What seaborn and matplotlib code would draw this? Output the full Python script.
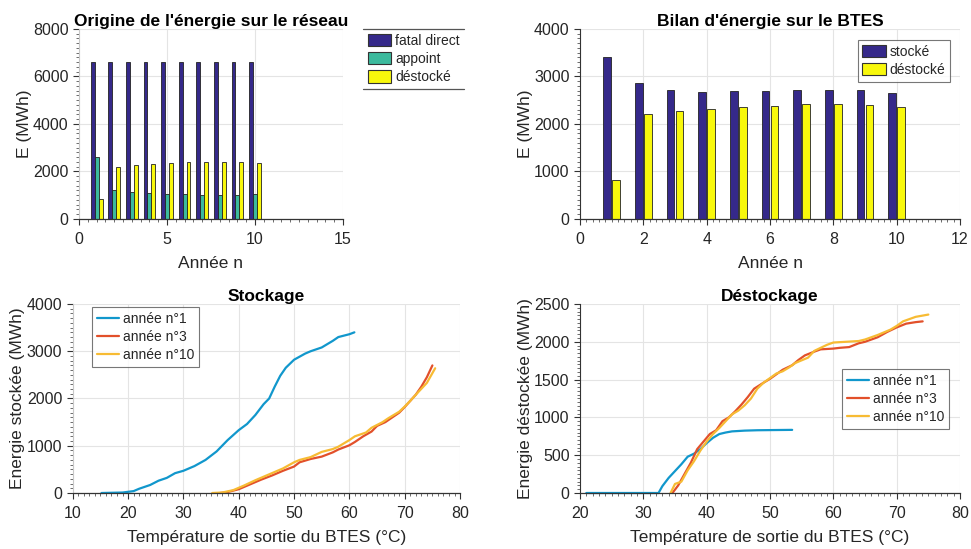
import matplotlib
matplotlib.use("Agg")
import matplotlib.pyplot as plt
from matplotlib.ticker import MultipleLocator
from matplotlib.lines import Line2D
import pandas as pd
import seaborn as sns

# ---------------------------------------------------------------- data
annees = [1, 2, 3, 4, 5, 6, 7, 8, 9, 10]
fatal_direct = [6600, 6600, 6600, 6600, 6600, 6600, 6600, 6600, 6600, 6600]
appoint = [2600, 1230, 1150, 1090, 1050, 1050, 1010, 1000, 1000, 1050]
destocke = [830, 2200, 2270, 2325, 2360, 2380, 2415, 2415, 2395, 2360]
stocke = [3410, 2870, 2710, 2675, 2695, 2695, 2725, 2725, 2710, 2655]

series_reseau = ["fatal direct", "appoint", "déstocké"]
series_btes = ["stocké", "déstocké"]
annees_courbes = ["année n°1", "année n°3", "année n°10"]

# Stockage : température de sortie (°C) / énergie stockée cumulée (MWh)
stock_t_a1 = [15.2, 19, 21, 22, 24, 25.5, 27, 28.5, 30, 32, 34, 36, 38, 40, 41.5,
              43, 44.5, 45.5, 46.5, 47.5, 48.5, 50, 52, 53, 55, 57, 58, 60, 60.9]
stock_e_a1 = [0, 10, 40, 90, 170, 260, 320, 420, 470, 570, 700, 880, 1120, 1330, 1460,
              1650, 1880, 2000, 2250, 2480, 2650, 2820, 2950, 3000, 3080, 3220, 3300, 3360, 3400]
stock_t_a3 = [36.6, 38, 40, 42, 44, 46, 48, 50, 51, 53, 55, 57, 58, 60, 61, 62.5,
              64, 65, 66.5, 68, 69, 70, 71, 72, 73, 74, 75]
stock_e_a3 = [0, 20, 80, 180, 280, 370, 470, 560, 650, 720, 770, 860, 920, 1010, 1080, 1200,
              1300, 1420, 1500, 1620, 1700, 1820, 1950, 2080, 2250, 2450, 2700]
stock_t_a10 = [35.2, 37, 39, 41, 43, 45, 47, 48, 50, 51, 53, 55, 57, 58, 60, 61,
               63, 64, 66, 67, 69, 70, 71, 72, 74, 75.5]
stock_e_a10 = [0, 10, 60, 160, 270, 370, 470, 520, 650, 700, 760, 870, 930, 980, 1120, 1200,
               1280, 1380, 1500, 1580, 1720, 1830, 1950, 2080, 2330, 2640]

# Déstockage : température de sortie (°C) / énergie déstockée cumulée (MWh)
destock_t_a1 = [21, 32.4, 33, 34, 35, 36, 37, 38, 39, 40, 41, 42, 43, 44, 46, 48, 50, 53.5]
destock_e_a1 = [0, 0, 90, 200, 290, 380, 480, 520, 580, 660, 730, 780, 800, 815, 825, 830, 832, 835]
destock_t_a3 = [34.6, 35.5, 36.5, 37.5, 38.5, 39.5, 40.5, 41.5, 42.5, 43.5, 44.5, 45.5,
                46.5, 47.5, 49, 50, 51, 52, 53.5, 54.5, 55.5, 57, 58, 60, 61, 62.5,
                64, 65, 67, 68.5, 70, 71.5, 73, 74.1]
destock_e_a3 = [0, 100, 250, 400, 580, 680, 780, 830, 950, 1000, 1080, 1170,
                1270, 1380, 1460, 1510, 1570, 1630, 1690, 1760, 1820, 1870, 1900, 1910, 1920, 1930,
                1980, 2000, 2060, 2130, 2190, 2240, 2260, 2270]
destock_t_a10 = [34.3, 35, 36, 37, 38, 39, 40, 41, 42, 43, 44, 45, 46, 47, 48, 49, 50,
                 51, 52, 53, 54, 56, 57, 58, 59, 60, 62, 64, 65, 67, 69, 70, 71, 73, 75]
destock_e_a10 = [0, 120, 150, 300, 420, 560, 680, 780, 860, 950, 1040, 1090, 1160, 1250, 1380, 1460, 1520,
                 1580, 1610, 1660, 1720, 1790, 1880, 1920, 1960, 1990, 2000, 2010, 2030, 2090, 2160, 2210,
                 2270, 2330, 2360]

# ---------------------------------------------------------------- style
sns.set_theme(style="ticks")
plt.rcParams["font.family"] = ["Liberation Sans", "DejaVu Sans"]
plt.rcParams["axes.unicode_minus"] = False

c_navy = "#35298A"
c_teal = "#3CBA9D"
c_yellow = "#F8F80C"
c_l1 = "#1197CC"
c_l3 = "#E2502A"
c_l10 = "#F7BB33"
txt = "#262626"
grid_c = "#E4E4E4"

fig = plt.figure(figsize=(9.71, 5.49), dpi=100)
ax_tl = fig.add_axes([0.0814, 0.6011, 0.2718, 0.3461])
ax_tr = fig.add_axes([0.5973, 0.6011, 0.3914, 0.3461])
ax_bl = fig.add_axes([0.0749, 0.1020, 0.3989, 0.3443])
ax_br = fig.add_axes([0.5973, 0.1020, 0.3914, 0.3443])


def style_axes(ax, xmaj, xmin, ymaj, ymin, left_spine=True):
    ax.xaxis.set_major_locator(MultipleLocator(xmaj))
    ax.xaxis.set_minor_locator(MultipleLocator(xmin))
    ax.yaxis.set_major_locator(MultipleLocator(ymaj))
    ax.yaxis.set_minor_locator(MultipleLocator(ymin))
    ax.grid(True, which="major", color=grid_c, lw=0.8)
    ax.set_axisbelow(True)
    for s in ("top", "right"):
        ax.spines[s].set_visible(False)
    ax.spines["bottom"].set_color("#333333")
    ax.spines["bottom"].set_linewidth(0.9)
    ax.spines["left"].set_color("#333333" if left_spine else "#C8C8C8")
    ax.spines["left"].set_linewidth(0.8)
    ax.tick_params(which="both", bottom=True, left=True, top=False, right=False)
    ax.tick_params(which="major", direction="out", length=4, width=0.8, color="#333333",
                   labelsize=11.5, labelcolor=txt)
    ax.tick_params(which="minor", direction="out", length=2.2, width=0.6, color="#555555")
    ax.tick_params(axis="x", which="major", pad=5.5)
    ax.tick_params(axis="y", which="major", pad=3.5)


def set_labels(ax, title, xlabel, ylabel):
    ax.set_title(title, fontsize=12.5, fontweight="bold", color="black", pad=2.5)
    ax.set_xlabel(xlabel, fontsize=12.5, color=txt, labelpad=6.5)
    ax.set_ylabel(ylabel, fontsize=12.5, color=txt, labelpad=1)


def rebuild_legend(ax, patches, **kw):
    leg = ax.get_legend()
    handles = list(leg.legend_handles)
    labels = [t.get_text() for t in leg.texts]
    leg.remove()
    if patches:
        for h in handles:
            h.set_edgecolor("#333333")
            h.set_linewidth(0.8)
    new = ax.legend(handles, labels, fontsize=10, labelcolor=txt, fancybox=False,
                    borderaxespad=0, borderpad=0.35, labelspacing=0.3,
                    handletextpad=0.25, **kw)
    new.get_frame().set_edgecolor("#555555")
    new.get_frame().set_linewidth(0.8)
    return new


# ---------------------------------------------------------------- origine de l'énergie
df_res = pd.DataFrame({
    "annee": annees * 3,
    "E": fatal_direct + appoint + destocke,
    "serie": [series_reseau[0]] * 10 + [series_reseau[1]] * 10 + [series_reseau[2]] * 10,
})
sns.barplot(data=df_res, x="annee", y="E", hue="serie", hue_order=series_reseau,
            palette=[c_navy, c_teal, c_yellow], saturation=1, native_scale=True, width=0.667,
            errorbar=None, edgecolor="#222222", linewidth=0.6, ax=ax_tl)
ax_tl.set_xlim(0, 15)
ax_tl.set_ylim(0, 8000)
style_axes(ax_tl, 5, 0.5, 2000, 200, left_spine=False)
set_labels(ax_tl, "Origine de l'énergie sur le réseau", "Année n", "E (MWh)")
leg_tl = rebuild_legend(ax_tl, True, loc="upper left", bbox_to_anchor=(1.076, 1.0),
                        handlelength=1.7, handleheight=1.0)
leg_tl.set_frame_on(False)

# ---------------------------------------------------------------- bilan BTES
df_btes = pd.DataFrame({
    "annee": annees * 2,
    "E": stocke + destocke,
    "serie": [series_btes[0]] * 10 + [series_btes[1]] * 10,
})
sns.barplot(data=df_btes, x="annee", y="E", hue="serie", hue_order=series_btes,
            palette=[c_navy, c_yellow], saturation=1, native_scale=True, width=0.571, gap=0.18,
            errorbar=None, edgecolor="#222222", linewidth=0.6, ax=ax_tr)
ax_tr.set_xlim(0, 12)
ax_tr.set_ylim(0, 4000)
style_axes(ax_tr, 2, 0.2, 1000, 100)
set_labels(ax_tr, "Bilan d'énergie sur le BTES", "Année n", "E (MWh)")
rebuild_legend(ax_tr, True, loc="upper right", bbox_to_anchor=(0.974, 0.942),
               handlelength=1.7, handleheight=1.0)

# ---------------------------------------------------------------- stockage
df_st = pd.DataFrame({
    "T": stock_t_a1 + stock_t_a3 + stock_t_a10,
    "E": stock_e_a1 + stock_e_a3 + stock_e_a10,
    "annee": [annees_courbes[0]] * len(stock_t_a1) + [annees_courbes[1]] * len(stock_t_a3)
    + [annees_courbes[2]] * len(stock_t_a10),
})
sns.lineplot(data=df_st, x="T", y="E", hue="annee", hue_order=annees_courbes,
             palette=[c_l1, c_l3, c_l10], sort=False, estimator=None, lw=1.6,
             ax=ax_bl, clip_on=False)
ax_bl.set_xlim(10, 80)
ax_bl.set_ylim(0, 4000)
style_axes(ax_bl, 10, 1, 1000, 100, left_spine=False)
set_labels(ax_bl, "Stockage", "Température de sortie du BTES (°C)", "Energie stockée (MWh)")
rebuild_legend(ax_bl, False, loc="upper left", bbox_to_anchor=(0.05, 0.984),
               handlelength=1.6)

# ---------------------------------------------------------------- déstockage
df_ds = pd.DataFrame({
    "T": destock_t_a1 + destock_t_a3 + destock_t_a10,
    "E": destock_e_a1 + destock_e_a3 + destock_e_a10,
    "annee": [annees_courbes[0]] * len(destock_t_a1) + [annees_courbes[1]] * len(destock_t_a3)
    + [annees_courbes[2]] * len(destock_t_a10),
})
sns.lineplot(data=df_ds, x="T", y="E", hue="annee", hue_order=annees_courbes,
             palette=[c_l1, c_l3, c_l10], sort=False, estimator=None, lw=1.6,
             ax=ax_br, clip_on=False)
ax_br.set_xlim(20, 80)
ax_br.set_ylim(0, 2500)
style_axes(ax_br, 10, 1, 500, 50)
set_labels(ax_br, "Déstockage", "Température de sortie du BTES (°C)", "Energie déstockée (MWh)")
rebuild_legend(ax_br, False, loc="upper right", bbox_to_anchor=(0.971, 0.656),
               handlelength=1.6)

# top and bottom rules around the outside legend
fig.canvas.draw()
bb = leg_tl.get_window_extent().transformed(fig.transFigure.inverted())
for yy in (bb.y0, bb.y1):
    fig.add_artist(Line2D([bb.x0, bb.x1], [yy, yy], color="#555555", lw=0.9,
                          transform=fig.transFigure))

fig.savefig("out.png", dpi=100)
